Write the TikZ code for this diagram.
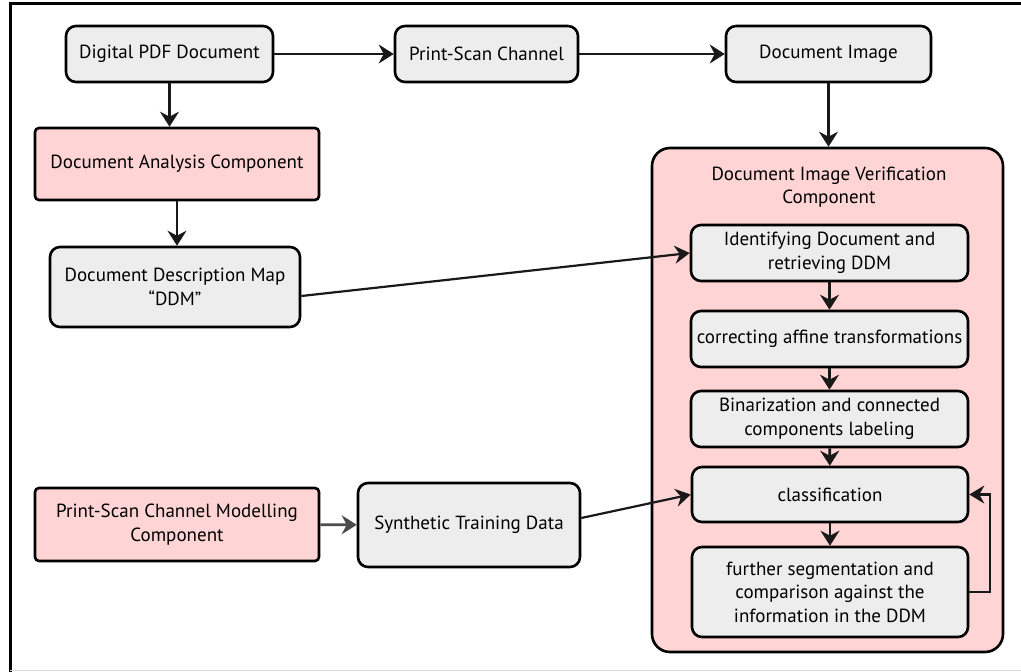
\documentclass[tikz,border=0pt]{standalone}
\usepackage{fontspec}
\setmainfont{PT Sans}
\usetikzlibrary{arrows.meta}
\definecolor{boxgray}{HTML}{EDEDED}
\definecolor{boxpink}{HTML}{FFD4D4}
\begin{document}
\begin{tikzpicture}[x=1pt,y=-1pt,
  every node/.style={font=\fontsize{19}{23.5}\selectfont, align=center, inner sep=2pt},
  graybox/.style={draw=black, line width=2.6pt, fill=boxgray, rounded corners=10pt},
  pinkbox/.style={draw=black, line width=2.6pt, fill=boxpink, rounded corners=4pt},
  container/.style={draw=black, line width=2.6pt, fill=boxpink, rounded corners=18pt},
  conn/.style={draw=black!90, line width=2.6pt, -{Stealth[length=15pt,width=19pt,inset=5pt]}},
  thinconn/.style={draw=black!90, line width=2.2pt, -{Stealth[length=15pt,width=18pt,inset=5pt]}}]
\useasboundingbox (0,0) rectangle (1021,672);
% frame
\draw[line width=3pt] (10,672) -- (10,3) -- (1021,3);
\draw[line width=1pt, black!15] (10,670.5) -- (1021,670.5);
% nodes
\node[graybox, minimum width=207pt, minimum height=56pt] (pdf) at (169.5,54) {Digital PDF Document};
\node[graybox, minimum width=183pt, minimum height=56pt] (psc) at (486.5,54) {Print-Scan Channel};
\node[graybox, minimum width=205pt, minimum height=56pt] (img) at (828.5,54) {Document Image};
\node[pinkbox, minimum width=284pt, minimum height=72pt] (dac) at (177,164) {Document Analysis Component};
\node[graybox, minimum width=250pt, minimum height=80pt] (ddm) at (175,287) {Document Description Map\\“DDM”};
\node[pinkbox, minimum width=284pt, minimum height=73pt] (psm) at (177,524.5) {Print-Scan Channel Modelling\\Component};
\node[graybox, minimum width=222pt, minimum height=84pt] (syn) at (469,525) {Synthetic Training Data};
\node[container, minimum width=351pt, minimum height=504pt] (cont) at (827.5,400) {};
\node (title) at (829,187) {Document Image Verification\\Component};
\node[graybox, minimum width=277pt, minimum height=56pt] (idf) at (829.5,253) {Identifying Document and\\retrieving DDM};
\node[graybox, minimum width=277pt, minimum height=56pt, inner sep=0pt] (cor) at (829.5,339) {correcting affine transformations};
\node[graybox, minimum width=277pt, minimum height=56pt] (bin) at (829.5,419) {Binarization and connected\\components labeling};
\node[graybox, minimum width=276pt, minimum height=55pt] (cls) at (830,494.5) {classification};
\node[graybox, minimum width=276pt, minimum height=90pt] (fur) at (830,592) {further segmentation and\\comparison against the\\information in the DDM};
% connectors
\draw[conn] (pdf) -- (psc);
\draw[conn] (psc) -- (img);
\draw[conn] (pdf) -- (pdf|-dac.north);
\draw[conn] (dac) -- (dac|-ddm.north);
\draw[conn] (img) -- (img|-cont.north);
\draw[thinconn] ([yshift=-9pt]ddm.east) -- (idf.west);
\draw[conn] (idf) -- (cor);
\draw[conn] (cor) -- (bin);
\draw[conn] (bin) -- (cls);
\draw[conn] (cls) -- (fur);
\draw[thinconn] ([yshift=7pt]syn.east) -- (cls.west);
\draw[conn, draw=black!70] (psm) -- (syn);
\draw[thinconn] (fur.east) -- ++(21,0) |- (cls.east);
\end{tikzpicture}
\end{document}
